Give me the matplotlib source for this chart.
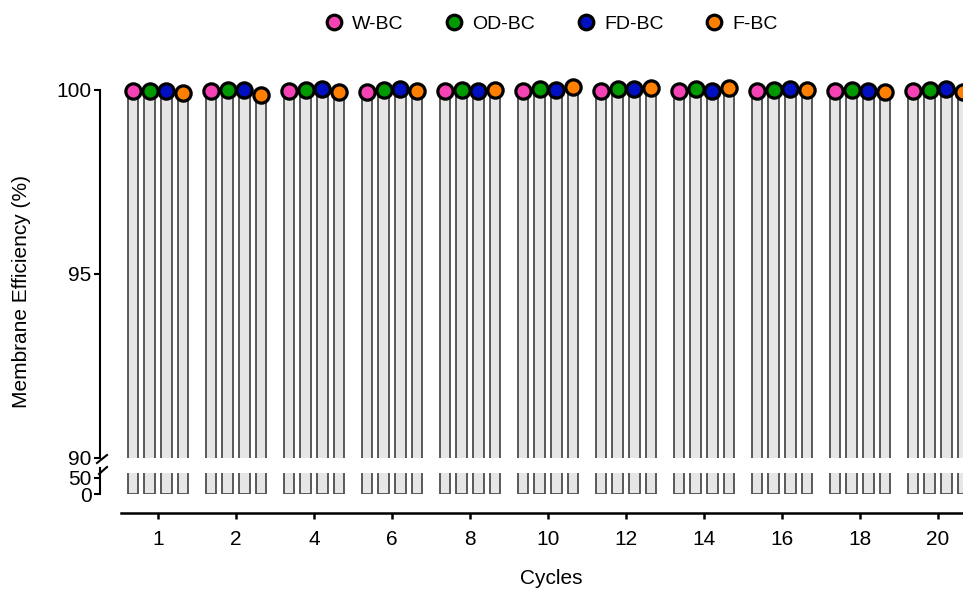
import matplotlib
matplotlib.use("Agg")
import matplotlib.pyplot as plt
from matplotlib.lines import Line2D
import numpy as np

plt.rcParams['font.family'] = ['Liberation Sans', 'DejaVu Sans']

cycles = ["1", "2", "4", "6", "8", "10", "12", "14", "16", "18", "20"]
series_names = ["W-BC", "OD-BC", "FD-BC", "F-BC"]
w_bc = [99.97, 99.97, 99.98, 99.95, 99.98, 99.96, 99.98, 99.96, 99.96, 99.98, 99.98]
od_bc = [99.97, 100.00, 100.00, 99.99, 100.01, 100.03, 100.02, 100.03, 100.01, 100.01, 100.01]
fd_bc = [99.97, 99.99, 100.04, 100.02, 99.98, 100.00, 100.02, 99.97, 100.02, 99.98, 100.02]
f_bc = [99.92, 99.86, 99.95, 99.97, 100.01, 100.07, 100.05, 100.05, 100.01, 99.94, 99.94]
series_values = [w_bc, od_bc, fd_bc, f_bc]
colors = ["#f542b5", "#009a00", "#0010c0", "#ff7f00"]

W, H = 963, 590
fig = plt.figure(figsize=(W / 100, H / 100), dpi=100)

def fx(px):
    return px / W

def fy(py):
    return 1 - py / H

left_px = 100
ax_top = fig.add_axes([fx(left_px), fy(458), 1 - fx(left_px), fy(90) - fy(458)])
ax_bot = fig.add_axes([fx(left_px), fy(494), 1 - fx(left_px), fy(473) - fy(494)])

spacing_px = 78.0
x0 = -(158 - left_px) / spacing_px
x1 = x0 + (W - left_px) / spacing_px

x = np.arange(len(cycles))
offsets = [-0.321, -0.107, 0.107, 0.321]
bw = 0.14
bar_face = "#e6e6e6"
bar_edge = "#4d4d4d"

for ax in (ax_top, ax_bot):
    for vals, off in zip(series_values, offsets):
        ax.bar(x + off, vals, width=bw, color=bar_face, edgecolor=bar_edge,
               linewidth=1.3, zorder=2)
    ax.set_xlim(x0, x1)
    ax.spines['top'].set_visible(False)
    ax.spines['right'].set_visible(False)
    ax.spines['left'].set_linewidth(1.5)
    ax.tick_params(axis='y', length=4, width=1.5, labelsize=15, pad=2)

for vals, off, c in zip(series_values, offsets, colors):
    ax_top.plot(x + off, vals, linestyle='none', marker='o', markersize=11,
                markerfacecolor=c, markeredgecolor='black', markeredgewidth=2.3,
                clip_on=False, zorder=5)

ax_top.set_ylim(90, 100)
ax_top.set_yticks([90, 95, 100])
ax_top.spines['bottom'].set_visible(False)
ax_top.spines['left'].set_bounds(90, 100)
ax_top.set_xticks([])

ax_bot.set_ylim(0, 65)
ax_bot.set_yticks([0, 50])
ax_bot.spines['bottom'].set_position(('outward', 13.7))
ax_bot.spines['bottom'].set_bounds((121 - 158) / spacing_px, x1 + 1)
ax_bot.spines['bottom'].set_linewidth(1.8)
ax_bot.set_xticks(x)
ax_bot.set_xticklabels(cycles)
ax_bot.tick_params(axis='x', length=4.5, width=1.8, labelsize=15, pad=8)

# axis break marks
for (xa, ya, xb, yb) in [(97, 463, 107, 455), (99, 474, 107, 467)]:
    fig.add_artist(Line2D([fx(xa), fx(xb)], [fy(ya), fy(yb)], color='black',
                          linewidth=1.5, transform=fig.transFigure))
fig.add_artist(Line2D([fx(100), fx(100)], [fy(473), fy(468)], color='black',
                      linewidth=1.5, transform=fig.transFigure))

fig.text(fx(22), fy(292), "Membrane Efficiency (%)", rotation=90,
         ha='center', va='center', fontsize=15)
fig.text(fx(551), fy(579), "Cycles", ha='center', va='center', fontsize=15)

handles = [Line2D([], [], linestyle='none', marker='o', markersize=10.5,
                  markerfacecolor=c, markeredgecolor='black', markeredgewidth=2.3)
           for c in colors]
fig.legend(handles, series_names, loc='center', bbox_to_anchor=(fx(551), fy(24)),
           ncol=4, frameon=False, fontsize=14, handlelength=1.0,
           handletextpad=0.45, columnspacing=2.1, borderpad=0)

fig.savefig("out.png", dpi=100)
